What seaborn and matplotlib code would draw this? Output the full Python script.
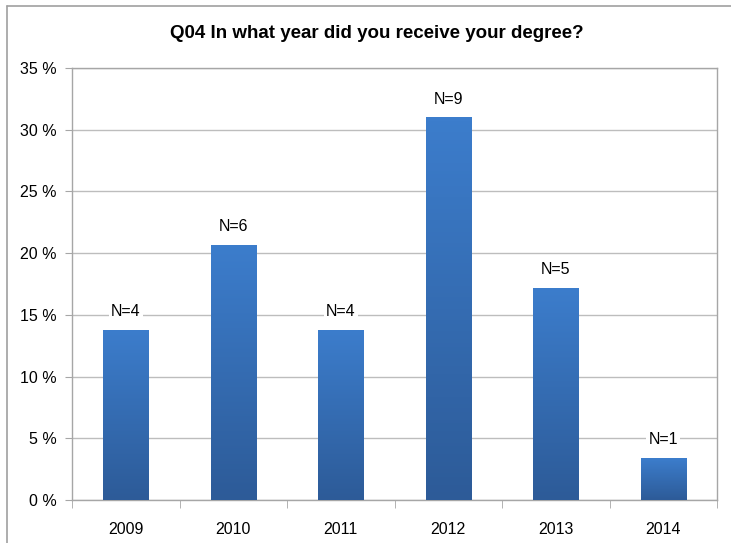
import matplotlib
matplotlib.use("Agg")
import matplotlib.pyplot as plt
from matplotlib.lines import Line2D
from matplotlib.colors import LinearSegmentedColormap
from matplotlib.ticker import FixedLocator, FuncFormatter
import seaborn as sns
import numpy as np
import pandas as pd

years = ["2009", "2010", "2011", "2012", "2013", "2014"]
percents = [13.8, 20.7, 13.8, 31.0, 17.2, 3.4]
counts = [4, 6, 4, 9, 5, 1]
title = "Q04 In what year did you receive your degree?"

sns.set_style("white")
plt.rcParams["font.family"] = ["Liberation Sans Narrow", "Liberation Sans", "DejaVu Sans"]
plt.rcParams["text.color"] = "black"
plt.rcParams["xtick.color"] = "black"
plt.rcParams["ytick.color"] = "black"

df = pd.DataFrame({"year": years, "pct": percents, "n": counts})

fig = plt.figure(figsize=(7.31, 5.43), dpi=100)
ax = fig.add_axes([72 / 731, 43 / 543, 645 / 731, 432 / 543])

sns.barplot(data=df, x="year", y="pct", color="#3a78c8", width=0.42,
            saturation=1, ax=ax, zorder=3)

# vertical gradient on each bar, light at top, darker at bottom
grad = LinearSegmentedColormap.from_list("bar", ["#2d5b98", "#3c7dcc"])
for p in ax.patches:
    x0, y0 = p.get_x(), p.get_y()
    w, h = p.get_width(), p.get_height()
    p.set_edgecolor("none")
    img = ax.imshow(np.linspace(0, 1, 100).reshape(-1, 1), cmap=grad, origin="lower",
                    extent=[x0, x0 + w, y0, y0 + h], aspect="auto", zorder=3)
    img.set_clip_path(p)

ax.set_xlim(-0.5, len(years) - 0.5)
ax.set_ylim(0, 35)
ax.set_yticks(range(0, 36, 5))
ax.yaxis.set_major_formatter(FuncFormatter(lambda v, _: f"{int(v)} %"))
ax.grid(axis="y", color="#bdbdbd", linewidth=1, zorder=0)
ax.set_axisbelow(True)
ax.set_xlabel("")
ax.set_ylabel("")

for s in ax.spines.values():
    s.set_color("#a6a6a6")
    s.set_linewidth(1)

ax.tick_params(axis="y", which="major", left=True, length=5, color="#a6a6a6",
               labelcolor="black", labelsize=11.5, pad=6)
ax.tick_params(axis="x", which="major", bottom=False, labelcolor="black",
               labelsize=11.5, pad=12)
ax.xaxis.set_minor_locator(FixedLocator(np.arange(-0.5, len(years), 1)))
ax.tick_params(axis="x", which="minor", bottom=True, length=6, color="#a6a6a6")

for i, (v, n) in enumerate(zip(percents, counts)):
    ax.annotate(f"N={n}", xy=(i, v), xytext=(0, 13), textcoords="offset points",
                ha="center", va="center", fontsize=11.5, color="black", zorder=5,
                bbox=dict(boxstyle="square,pad=0.15", fc="white", ec="none"))

fig.text(377 / 731, 1 - 33 / 543, title, ha="center", va="center",
         fontsize=13.5, fontweight="bold", color="black")

# outer chart border (top and left visible in the crop)
fig.add_artist(Line2D([7 / 731, 1], [1 - 6 / 543, 1 - 6 / 543],
                      transform=fig.transFigure, color="#a0a0a0", linewidth=1.2))
fig.add_artist(Line2D([7 / 731, 7 / 731], [0, 1 - 6 / 543],
                      transform=fig.transFigure, color="#a0a0a0", linewidth=1.2))

fig.savefig("out.png", dpi=100)
